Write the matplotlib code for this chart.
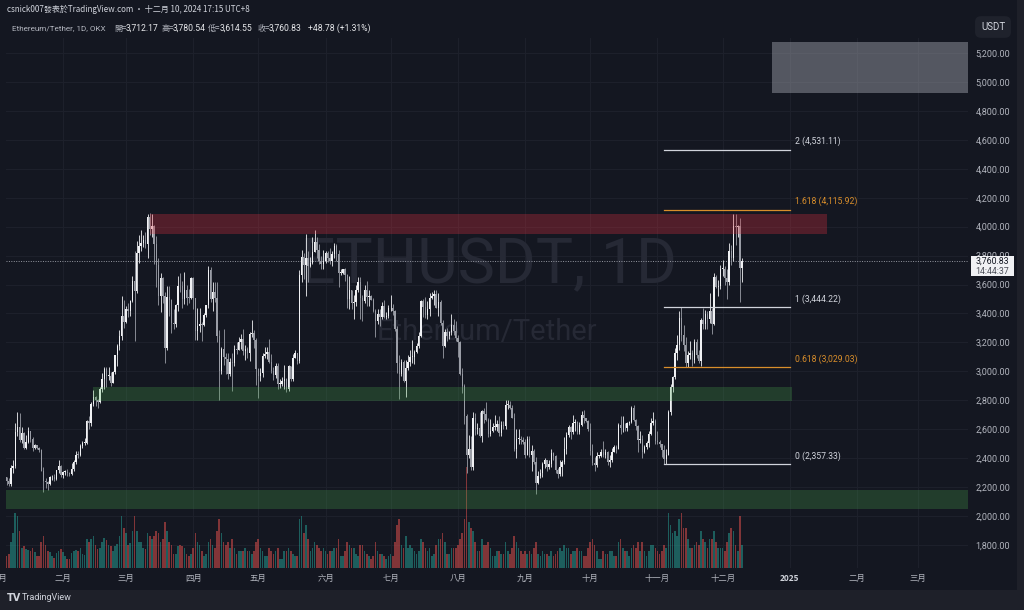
import numpy as np
import pandas as pd
import matplotlib
matplotlib.use('Agg')
import matplotlib.pyplot as plt
from matplotlib.patches import Rectangle
from matplotlib.transforms import blended_transform_factory

plt.rcParams['font.family'] = ['Noto Sans CJK TC', 'DejaVu Sans']

# ---- daily ETH/USDT candles, 2024-01-01 .. 2024-12-10 ----
prev_close = 2281

close_jan = [2352, 2355, 2210, 2268, 2268, 2240, 2222, 2330, 2344, 2584,
             2618, 2523, 2576, 2472, 2512, 2587, 2529, 2468, 2490, 2470,
             2455, 2313, 2242, 2236, 2218, 2267, 2268, 2256, 2317, 2343, 2283]
high_jan = [2375, 2430, 2385, 2294, 2280, 2270, 2265, 2355, 2385, 2643,
            2717, 2715, 2615, 2580, 2560, 2615, 2590, 2545, 2500, 2480,
            2475, 2465, 2340, 2262, 2240, 2275, 2285, 2290, 2320, 2390, 2350]
low_jan = [2275, 2335, 2100, 2200, 2200, 2215, 2210, 2210, 2300, 2330,
           2550, 2510, 2505, 2460, 2465, 2505, 2510, 2450, 2460, 2460,
           2445, 2310, 2168, 2195, 2180, 2215, 2250, 2240, 2250, 2300, 2270]

close_feb = [2304, 2307, 2297, 2290, 2323, 2373, 2422, 2420, 2486, 2503,
             2506, 2659, 2641, 2777, 2824, 2803, 2786, 2880, 2944, 3015,
             2967, 2970, 2922, 2992, 3112, 3175, 3243, 3384, 3340]
high_feb = [2310, 2320, 2325, 2305, 2365, 2390, 2450, 2450, 2495, 2520,
            2540, 2665, 2690, 2790, 2870, 2830, 2810, 2890, 2990, 3030,
            3030, 3030, 2995, 3000, 3115, 3190, 3285, 3522, 3490]
low_feb = [2260, 2285, 2280, 2275, 2285, 2310, 2360, 2400, 2415, 2470,
           2490, 2495, 2600, 2620, 2760, 2760, 2745, 2780, 2860, 2880,
           2890, 2940, 2900, 2920, 2985, 3040, 3150, 3215, 3300]

close_mar = [3433, 3420, 3487, 3627, 3553, 3817, 3868, 3885, 3907, 3880,
             4066, 3982, 4003, 3881, 3733, 3523, 3645, 3520, 3160, 3516,
             3493, 3335, 3330, 3455, 3590, 3587, 3500, 3560, 3510, 3508, 3645]
high_mar = [3450, 3470, 3490, 3660, 3830, 3900, 3940, 3975, 3940, 3960,
            4085, 4092, 4085, 4010, 3935, 3780, 3680, 3650, 3550, 3590,
            3590, 3500, 3430, 3465, 3660, 3680, 3625, 3685, 3595, 3570, 3655]
low_mar = [3335, 3375, 3380, 3480, 3210, 3540, 3750, 3830, 3860, 3850,
           3780, 3940, 3925, 3740, 3580, 3455, 3410, 3470, 3060, 3150,
           3380, 3265, 3290, 3305, 3420, 3550, 3440, 3465, 3460, 3470, 3500]

close_apr = [3505, 3280, 3311, 3330, 3318, 3389, 3455, 3700, 3503, 3545,
             3505, 3245, 3005, 3155, 3100, 3085, 2985, 3065, 3055, 3155,
             3147, 3200, 3220, 3140, 3155, 3130, 3255, 3265, 3215, 3015]
high_apr = [3650, 3500, 3440, 3440, 3340, 3400, 3460, 3730, 3720, 3620,
            3620, 3615, 3285, 3170, 3290, 3125, 3125, 3095, 3125, 3180,
            3200, 3240, 3260, 3290, 3180, 3170, 3275, 3355, 3285, 3230]
low_apr = [3430, 3215, 3215, 3270, 3210, 3315, 3375, 3440, 3480, 3415,
           3480, 3200, 2805, 2985, 3045, 2985, 2945, 2965, 2865, 3035,
           3120, 3150, 3155, 3110, 3075, 3095, 3070, 3235, 3160, 2905]

close_may = [2970, 2990, 3105, 3118, 3135, 3065, 3005, 2975, 3035, 2910,
             2910, 2930, 2950, 2880, 3035, 2945, 3095, 3125, 3070, 3665,
             3790, 3735, 3780, 3730, 3750, 3825, 3892, 3840, 3765, 3745, 3760]
high_may = [3025, 3020, 3125, 3170, 3170, 3220, 3120, 3030, 3055, 3055,
            2945, 2960, 3045, 2955, 3045, 3040, 3120, 3145, 3130, 3700,
            3840, 3820, 3950, 3835, 3790, 3930, 3975, 3930, 3880, 3800, 3840]
low_may = [2815, 2930, 2960, 3095, 3085, 3055, 2990, 2940, 2955, 2880,
           2885, 2900, 2875, 2860, 2865, 2930, 2935, 3095, 3050, 3055,
           3620, 3640, 3520, 3620, 3720, 3740, 3825, 3780, 3740, 3705, 3710]

close_jun = [3815, 3780, 3765, 3810, 3865, 3810, 3680, 3680, 3705, 3665,
             3500, 3560, 3470, 3480, 3565, 3620, 3510, 3485, 3560, 3515,
             3520, 3495, 3420, 3350, 3395, 3375, 3450, 3375, 3380, 3435]
high_jun = [3835, 3830, 3850, 3830, 3890, 3880, 3840, 3710, 3710, 3715,
            3670, 3660, 3565, 3530, 3600, 3650, 3650, 3530, 3595, 3625,
            3560, 3530, 3510, 3430, 3430, 3430, 3480, 3490, 3410, 3455]
low_jun = [3750, 3755, 3740, 3730, 3780, 3760, 3585, 3665, 3675, 3625,
           3440, 3430, 3430, 3360, 3450, 3545, 3360, 3350, 3470, 3450,
           3450, 3490, 3410, 3240, 3325, 3310, 3360, 3370, 3365, 3370]

close_jul = [3440, 3420, 3295, 3060, 2980, 3065, 2930, 3020, 3065, 3100,
             3100, 3135, 3175, 3245, 3485, 3445, 3390, 3430, 3505, 3520,
             3535, 3440, 3480, 3335, 3175, 3275, 3245, 3270, 3320, 3280, 3230]
high_jul = [3525, 3465, 3425, 3310, 3110, 3085, 3075, 3080, 3115, 3150,
            3215, 3150, 3195, 3275, 3495, 3500, 3515, 3485, 3540, 3550,
            3560, 3565, 3540, 3490, 3355, 3290, 3300, 3280, 3395, 3365, 3350]
low_jul = [3420, 3390, 3280, 2990, 2810, 2970, 2925, 2825, 3010, 3040,
           3060, 3050, 3130, 3160, 3235, 3375, 3370, 3365, 3380, 3500,
           3455, 3435, 3380, 3320, 3090, 3170, 3210, 3225, 3250, 3250, 3210]

close_aug = [3200, 2985, 2900, 2690, 2420, 2460, 2340, 2680, 2600, 2610,
             2555, 2725, 2705, 2665, 2570, 2590, 2615, 2615, 2635, 2575,
             2630, 2625, 2765, 2770, 2745, 2680, 2460, 2530, 2530, 2525, 2515]
high_aug = [3250, 3210, 3020, 2915, 2705, 2560, 2550, 2720, 2710, 2640,
            2720, 2735, 2745, 2785, 2680, 2670, 2640, 2695, 2665, 2690,
            2660, 2655, 2800, 2800, 2795, 2765, 2710, 2600, 2600, 2550, 2545]
low_aug = [3100, 2975, 2850, 2635, 2300, 2400, 2315, 2320, 2560, 2570,
           2545, 2510, 2640, 2655, 2545, 2555, 2580, 2595, 2590, 2555,
           2555, 2600, 2600, 2740, 2740, 2675, 2450, 2400, 2500, 2495, 2500]

close_sep = [2425, 2535, 2425, 2450, 2370, 2225, 2275, 2295, 2360, 2390,
             2340, 2360, 2435, 2415, 2315, 2290, 2340, 2375, 2465, 2560,
             2615, 2580, 2645, 2650, 2580, 2630, 2695, 2675, 2660, 2600]
high_sep = [2530, 2550, 2555, 2490, 2465, 2410, 2310, 2325, 2375, 2400,
            2390, 2390, 2465, 2440, 2420, 2335, 2390, 2390, 2545, 2580,
            2630, 2620, 2700, 2670, 2660, 2650, 2725, 2730, 2680, 2665]
low_sep = [2400, 2420, 2410, 2310, 2360, 2150, 2220, 2260, 2270, 2330,
           2310, 2325, 2340, 2385, 2300, 2260, 2280, 2275, 2360, 2430,
           2545, 2535, 2570, 2590, 2570, 2565, 2625, 2640, 2650, 2585]

close_oct = [2450, 2365, 2350, 2415, 2415, 2440, 2420, 2440, 2370, 2385,
             2440, 2475, 2465, 2630, 2605, 2610, 2605, 2645, 2650, 2745,
             2665, 2620, 2525, 2535, 2440, 2480, 2505, 2570, 2640, 2660, 2520]
high_oct = [2640, 2495, 2410, 2440, 2425, 2460, 2520, 2465, 2450, 2420,
            2470, 2490, 2490, 2640, 2690, 2690, 2640, 2650, 2655, 2760,
            2770, 2670, 2630, 2590, 2560, 2490, 2520, 2590, 2680, 2720, 2670]
low_oct = [2420, 2355, 2310, 2340, 2400, 2410, 2410, 2400, 2355, 2340,
           2375, 2440, 2435, 2460, 2570, 2580, 2590, 2585, 2630, 2640,
           2655, 2595, 2440, 2505, 2400, 2435, 2465, 2480, 2560, 2630, 2500]

close_nov = [2515, 2495, 2455, 2395, 2425, 2720, 2895, 2960, 3125, 3185,
             3370, 3250, 3185, 3060, 3110, 3130, 3075, 3205, 3110, 3070,
             3355, 3325, 3395, 3360, 3415, 3325, 3655, 3580, 3590, 3705]
high_nov = [2585, 2525, 2495, 2490, 2465, 2730, 2910, 2970, 3160, 3250,
            3420, 3444.22, 3320, 3235, 3140, 3210, 3145, 3225, 3225, 3150,
            3370, 3440, 3425, 3420, 3540, 3440, 3680, 3665, 3630, 3735]
low_nov = [2500, 2480, 2405, 2357.33, 2360, 2440, 2700, 2860, 2950, 3080,
           3150, 3210, 3140, 3030, 3030, 3085, 3035, 3060, 3090, 3060,
           3040, 3290, 3295, 3290, 3335, 3260, 3320, 3575, 3520, 3570]

close_dec = [3710, 3645, 3615, 3835, 3785, 4005, 3995, 4005, 3712.17, 3760.83]
high_dec = [3770, 3725, 3710, 3890, 3870, 4090, 4085, 4010, 4060, 3780.54]
low_dec = [3660, 3600, 3500, 3600, 3735, 3760, 3870, 3930, 3480, 3614.55]

# volume (thousand ETH)
vol_jan = [420, 380, 700, 450, 300, 200, 250, 450, 600, 950, 900, 650, 350, 380, 330, 320,
           300, 350, 280, 200, 200, 450, 550, 400, 300, 280, 200, 180, 260, 300, 330]
vol_feb = [280, 200, 150, 150, 260, 300, 320, 290, 350, 250, 230, 500, 450, 500, 550, 400,
           330, 350, 450, 520, 480, 400, 380, 300, 380, 420, 550, 900, 700]
vol_mar = [600, 400, 430, 650, 900, 650, 450, 450, 350, 330, 600, 550, 500, 550, 650, 600,
           450, 500, 800, 650, 450, 400, 250, 250, 380, 400, 380, 350, 250, 200, 250]
vol_apr = [350, 600, 450, 400, 300, 200, 250, 450, 500, 400, 350, 650, 850, 600, 450,
           400, 450, 350, 500, 350, 250, 300, 300, 300, 350, 300, 300, 250, 300, 450]
vol_may = [500, 350, 300, 200, 200, 350, 300, 250, 300, 350, 150, 150, 300, 300, 350, 300,
           250, 200, 200, 850, 900, 600, 750, 500, 300, 350, 450, 400, 350, 300, 350]
vol_jun = [300, 250, 300, 300, 350, 350, 500, 200, 200, 300, 450, 400, 350, 350, 250,
           200, 400, 400, 300, 250, 200, 150, 200, 450, 300, 250, 250, 200, 150, 200]
vol_jul = [250, 200, 450, 750, 850, 400, 350, 550, 350, 400, 350, 300, 250, 300, 500, 450,
           350, 300, 350, 200, 250, 400, 500, 500, 600, 450, 250, 250, 350, 350, 350]
vol_aug = [400, 500, 600, 850, 1750, 800, 700, 650, 450, 300, 300, 500, 400, 400, 450, 350,
           200, 200, 300, 300, 250, 250, 450, 300, 250, 350, 550, 450, 350, 300, 250]
vol_sep = [300, 250, 300, 250, 350, 450, 250, 200, 300, 250, 250, 200, 300, 200, 250,
           300, 350, 300, 400, 350, 350, 250, 300, 300, 350, 300, 300, 200, 200, 350]
vol_oct = [450, 500, 400, 300, 150, 150, 300, 250, 250, 300, 300, 200, 200, 450, 500, 350,
           300, 300, 200, 350, 400, 350, 450, 300, 450, 300, 200, 300, 400, 400, 350]
vol_nov = [300, 250, 300, 400, 350, 950, 750, 600, 650, 550, 850, 950, 700, 700, 500,
           350, 350, 400, 450, 400, 650, 500, 450, 350, 500, 500, 650, 450, 350, 350]
vol_dec = [350, 300, 450, 600, 700, 650, 400, 300, 900, 400]

closes = np.array(close_jan + close_feb + close_mar + close_apr + close_may + close_jun
                  + close_jul + close_aug + close_sep + close_oct + close_nov + close_dec)
highs = np.array(high_jan + high_feb + high_mar + high_apr + high_may + high_jun
                 + high_jul + high_aug + high_sep + high_oct + high_nov + high_dec)
lows = np.array(low_jan + low_feb + low_mar + low_apr + low_may + low_jun
                + low_jul + low_aug + low_sep + low_oct + low_nov + low_dec)
vols = np.array(vol_jan + vol_feb + vol_mar + vol_apr + vol_may + vol_jun
                + vol_jul + vol_aug + vol_sep + vol_oct + vol_nov + vol_dec)
assert len(closes) == len(highs) == len(lows) == len(vols) == 345

opens = np.concatenate([[prev_close], closes[:-1]])
highs = np.maximum(highs, np.maximum(opens, closes))
lows = np.minimum(lows, np.minimum(opens, closes))

start = pd.Timestamp('2024-01-01')
days = np.arange(len(closes))

# annotations
zone_red = ('2024-03-12', '2025-01-18', 3949, 4087)
zone_green_top = ('2024-02-15', '2025-01-02', 2795, 2892)
zone_green_low = ('2023-12-20', '2025-04-30', 2050, 2180)
target_box = ('2024-12-24', '2025-04-30', 4924, 5276)
fib_levels = ['0', '0.618', '1', '1.618', '2']
fib_prices = [2357.33, 3029.03, 3444.22, 4115.92, 4531.11]
fib_span = ('2024-11-04', '2025-01-01')
last_price = 3760.83
countdown = '14:44:37'
price_ticks = list(range(1800, 5201, 200))
month_starts = ['2024-02-01', '2024-03-01', '2024-04-01', '2024-05-01', '2024-06-01',
                '2024-07-01', '2024-08-01', '2024-09-01', '2024-10-01', '2024-11-01',
                '2024-12-01', '2025-01-01', '2025-02-01', '2025-03-01']
month_labels = ['二月', '三月', '四月', '五月', '六月', '七月', '八月', '九月', '十月',
                '十一月', '十二月', '2025', '二月', '三月']


def dn(s):
    return (pd.Timestamp(s) - start).days


W, H = 1024, 610
BG = '#141721'
OUTER = '#1e2029'


def fx(x):
    return x / W


def fy(y):
    return 1 - y / H


fig = plt.figure(figsize=(W / 100, H / 100), dpi=100, facecolor=OUTER)
fig.patches.append(Rectangle((0, fy(590)), fx(1017), 1 - fy(590), transform=fig.transFigure,
                             facecolor=BG, edgecolor='none', zorder=-5))

ax = fig.add_axes([fx(6), fy(568), fx(968) - fx(6), fy(38) - fy(568)])
ax.set_facecolor(BG)
ax.set_xlim(4.75, 448.1)
ax.set_ylim(1640.8, 5303.7)

# grid
for p in price_ticks:
    ax.axhline(p, color='#1e212c', lw=0.7, zorder=0)
for m in month_starts:
    ax.axvline(dn(m), color='#1e212c', lw=0.7, zorder=0)

# watermark
ax.text(fx(489), fy(266), 'ETHUSDT, 1D', transform=fig.transFigure,
        ha='center', va='center', fontsize=45, family='Roboto', color='#262935', zorder=0.5)
ax.text(fx(487), fy(332), 'Ethereum/Tether', transform=fig.transFigure,
        ha='center', va='center', fontsize=21, family='Roboto', color='#262935', zorder=0.5)

# volume
up = closes >= opens
trans = blended_transform_factory(ax.transData, ax.transAxes)
vol_top = 9200
ax.bar(days[up], vols[up] / vol_top, width=0.75, color='#26a69a', alpha=0.5,
       transform=trans, zorder=1)
ax.bar(days[~up], vols[~up] / vol_top, width=0.75, color='#ef5350', alpha=0.5,
       transform=trans, zorder=1)

# candles
up_col, dn_col = '#f0f1f4', '#9a9da6'
ax.vlines(days[up], lows[up], highs[up], color=up_col, lw=0.6, zorder=3)
ax.vlines(days[~up], lows[~up], highs[~up], color=dn_col, lw=0.6, zorder=3)
body = np.maximum(np.abs(closes - opens), 6)
ax.bar(days[up], body[up], bottom=np.minimum(opens, closes)[up], width=0.62,
       color=up_col, zorder=3, linewidth=0)
ax.bar(days[~up], body[~up], bottom=np.minimum(opens, closes)[~up], width=0.62,
       color=dn_col, zorder=3, linewidth=0)

# zones
for (a, b, lo, hi), col, al in [(zone_red, '#e0313f', 0.3),
                                (zone_green_top, '#4caf50', 0.25),
                                (zone_green_low, '#4caf50', 0.25),
                                (target_box, '#9598a1', 0.5)]:
    ax.add_patch(Rectangle((dn(a), lo), dn(b) - dn(a), hi - lo, facecolor=col,
                           alpha=al, edgecolor='none', zorder=4))

# fibonacci extension
orange = '#d98e2b'
for lvl, p in zip(fib_levels, fib_prices):
    c = orange if lvl in ('0.618', '1.618') else '#d1d4dc'
    ax.plot([dn(fib_span[0]), dn(fib_span[1])], [p, p], color=c, lw=0.9, zorder=5)
    ax.annotate(f'{lvl} ({p:,.2f})', (dn(fib_span[1]), p), xytext=(3.5, 2.5),
                textcoords='offset points', ha='left', va='bottom', fontsize=6.2,
                family='Roboto', color=c, zorder=5)

# last price line
ax.axhline(last_price, color='#9598a1', lw=0.7, ls=(0, (1, 1.5)), zorder=2)

# axes styling
for s in ax.spines.values():
    s.set_visible(False)
ax.yaxis.tick_right()
ax.set_yticks(price_ticks)
ax.set_yticklabels([f'{p:,.2f}' for p in price_ticks], family='Roboto', fontsize=6.5,
                   color='#b2b5be')
ax.tick_params(axis='y', length=0, pad=5.5)
ax.set_xticks([dn(m) for m in month_starts])
ax.set_xticklabels(month_labels, fontsize=6, color='#b2b5be')
ax.tick_params(axis='x', length=0, pad=4)
for t in ax.get_xticklabels():
    if t.get_text() == '2025':
        t.set_fontweight('bold')
        t.set_color('#d1d4dc')
fig.text(fx(-1), fy(578), '一月', ha='center', va='center', fontsize=6, color='#b2b5be')

# price label on the axis
fig.patches.append(Rectangle((fx(971), fy(276)), fx(1014) - fx(971), fy(256) - fy(276),
                             transform=fig.transFigure, facecolor='#f0f1f4',
                             edgecolor='none', zorder=5))
fig.text(fx(992.5), fy(261), f'{last_price:,.2f}', ha='center', va='center',
         fontsize=6.3, family='Roboto', color='#131722', zorder=6)
fig.text(fx(992.5), fy(271), countdown, ha='center', va='center',
         fontsize=6.3, family='Roboto', color='#4a4d57', zorder=6)

# currency box
fig.text(fx(993), fy(27), 'USDT', ha='center', va='center', fontsize=7, family='Roboto',
         color='#d1d4dc',
         bbox=dict(boxstyle='round,pad=0.6', facecolor='#1f222c', edgecolor='none'))

# header
fig.text(fx(7), fy(9), 'csnick007發表於TradingView.com • 十二月 10, 2024 17:15 UTC+8',
         ha='left', va='center', fontsize=5.8, color='#d1d4dc')
fig.text(fx(12), fy(28), 'Ethereum/Tether, 1D, OKX', ha='left', va='center',
         fontsize=5.9, family='Roboto', color='#b2b5be')
ohlc_names = ['開=', '高=', '低=', '收=']
ohlc_vals = [3712.17, 3780.54, 3614.55, 3760.83]
ohlc_x = [114, 161, 208, 257]
for nm, v, x0 in zip(ohlc_names, ohlc_vals, ohlc_x):
    fig.text(fx(x0), fy(28), nm, ha='left', va='center', fontsize=5.8, color='#b2b5be')
    fig.text(fx(x0 + 12), fy(28), f'{v:,.2f}', ha='left', va='center', fontsize=6.2,
             family='Roboto', color='#e6e7ea')
fig.text(fx(308), fy(28), '+48.78 (+1.31%)', ha='left', va='center', fontsize=6.2,
         family='Roboto', color='#e6e7ea')

# footer
fig.text(fx(7), fy(598), 'TV', ha='left', va='center', fontsize=7, fontweight='heavy',
         family='DejaVu Sans', color='#d1d4dc')
fig.text(fx(22), fy(598), 'TradingView', ha='left', va='center', fontsize=6.5,
         family='Roboto', color='#d1d4dc')

fig.savefig('out.png', dpi=100, facecolor=OUTER)
